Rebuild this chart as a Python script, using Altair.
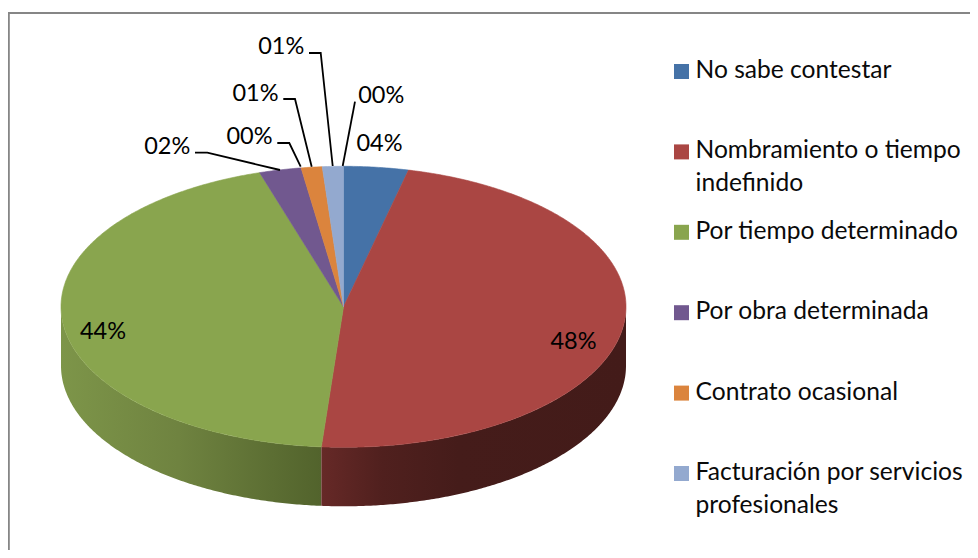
import math
import altair as alt

# --- chart values -----------------------------------------------------------
categories = ["No sabe contestar", "Nombramiento o tiempo indefinido", "Por tiempo determinado",
              "Por obra determinada", "Contrato ocasional", "Facturación por servicios profesionales"]
shares = [3.7, 47.6, 44.0, 2.4, 1.2, 1.2]
colors = ["#4572A7", "#AA4643", "#89A54E", "#71588F", "#DB843D", "#93A9CF"]
legend_text = ["No sabe contestar", "Nombramiento o tiempo|indefinido", "Por tiempo determinado",
               "Por obra determinada", "Contrato ocasional", "Facturación por servicios|profesionales"]
pct_labels = ["04%", "48%", "44%", "02%", "00%", "01%", "01%", "00%"]

# --- layout of the pie (chart pixels, page minus the 8px margin) -------------
W, H = 962, 542
CX, CY, RX, RY, DEPTH = 335.5, 298.8, 282.5, 140.5, 59.0
label_xy = [(372, 134), (566, 332), (95.5, 322), (159.7, 137.7),
            (242, 127), (248, 84), (273.7, 37), (373.7, 86)]
leaders = [
    [(187, 144.7), (199.3, 144.7), (272, 162)],
    [(269.3, 135), (281.3, 135), (292.7, 158.7)],
    [(275.3, 91), (287, 91), (303.7, 158.7)],
    [(301, 45), (312.7, 45), (324.7, 158)],
    [(347, 93.7), (334.7, 158)],
]


def pt(frac, dy=0.0):
    a = 2 * math.pi * frac
    return [CX + RX * math.sin(a), CY - RY * math.cos(a) + dy]


def arc(f0, f1, dy=0.0):
    n = max(2, int(abs(f1 - f0) * 720))
    return [pt(f0 + (f1 - f0) * i / n, dy) for i in range(n + 1)]


def poly(name, ring):
    ring = list(ring)
    return {"type": "Feature", "properties": {"name": name},
            "geometry": {"type": "Polygon", "coordinates": [ring + [ring[0]]]}}


def line(coords):
    return {"type": "Feature", "properties": {},
            "geometry": {"type": "LineString", "coordinates": [list(c) for c in coords]}}


cum = [0.0]
total = sum(shares)
for s in shares:
    cum.append(cum[-1] + s / total)

top = [poly(c, [[CX, CY]] + arc(cum[i], cum[i + 1])) for i, c in enumerate(categories)]
wall_red = poly("red", arc(0.25, cum[2]) + arc(cum[2], 0.25, DEPTH))
wall_green = poly("green", arc(cum[2], 0.75) + arc(0.75, cum[2], DEPTH))

scale_c = alt.Scale(domain=categories, range=colors)
PROJ = dict(type="identity")


def grad(stops):
    return alt.LinearGradient(gradient="linear", x1=0, x2=1, y1=0, y2=0,
                              stops=[alt.GradientStop(offset=o, color=c) for o, c in stops])


extent = alt.Chart(alt.Data(values=[poly("extent", [[0, 0], [W, 0], [W, H], [0, H]])])).mark_geoshape(
    fill="transparent", filled=True).project(**PROJ)

frame = alt.Chart(alt.Data(values=[line([(0.8, H), (0.8, 5), (W, 5)])])).mark_geoshape(
    filled=False, stroke="#868686", strokeWidth=2).project(**PROJ)

wall_g = alt.Chart(alt.Data(values=[wall_green])).mark_geoshape(
    fill=grad([(0, "#7D9549"), (0.45, "#6F8340"), (1, "#52632C")])).project(**PROJ)
wall_r = alt.Chart(alt.Data(values=[wall_red])).mark_geoshape(
    fill=grad([(0, "#662927"), (0.2, "#50201E"), (0.45, "#451C1A"), (1, "#431B19")])).project(**PROJ)

slices = alt.Chart(alt.Data(values=top)).mark_geoshape(strokeWidth=0.6).encode(
    color=alt.Color("properties.name:N", scale=scale_c, legend=None),
    stroke=alt.Stroke("properties.name:N", scale=scale_c, legend=None),
).project(**PROJ)

lead = alt.Chart(alt.Data(values=[line(l) for l in leaders])).mark_geoshape(
    filled=False, stroke="#000000", strokeWidth=1.8).project(**PROJ)

pct_rows = [{"t": t, "px": p[0], "py": p[1]} for t, p in zip(pct_labels, label_xy)]
pct = alt.Chart(alt.Data(values=pct_rows)).mark_text(
    font="Lato", fontSize=23.5, color="#000000", align="center", baseline="middle", dy=1.5, dx=-0.5).encode(
    longitude="px:Q", latitude="py:Q", text="t:N").project(**PROJ)

legend_rows = [{"name": c, "text": t, "color": k} for c, t, k in zip(categories, legend_text, colors)]
y_enc = alt.Y("name:N", axis=None,
              scale=alt.Scale(type="point", domain=categories, range=[63.5, 465.5], padding=0))
swatch = alt.Chart(alt.Data(values=legend_rows)).mark_square(size=225, opacity=1).encode(
    x=alt.value(673.5), y=y_enc,
    color=alt.Color("name:N", scale=scale_c, legend=None))
ltext = alt.Chart(alt.Data(values=legend_rows)).mark_text(
    font="Lato", fontSize=24.6, color="#0a0a0a", align="left", baseline="top",
    lineBreak="|", lineHeight=33, dy=-12.5).encode(
    x=alt.value(687.5), y=y_enc, text="text:N")

chart = alt.layer(extent, frame, wall_g, wall_r, slices, lead, pct, swatch, ltext).properties(
    width=W, height=H, padding=0, background="white",
    autosize=alt.AutoSizeParams(type="none")
).configure_view(stroke=None)

chart.save("out.html", embed_options={"renderer": "svg", "actions": False})
